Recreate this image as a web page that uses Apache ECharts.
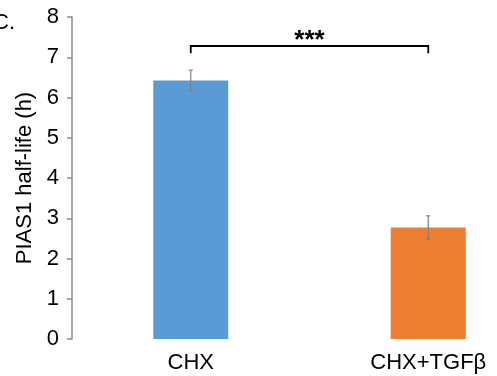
<!DOCTYPE html>
<html><head><meta charset="utf-8">
<script src="https://cdn.jsdelivr.net/npm/echarts@6/dist/echarts.min.js"></script>
<style>html,body{margin:0;padding:0;background:#fff}#c{width:497px;height:376px}</style>
</head><body><div id="c"></div>
<script>
var categories = ['CHX', 'CHX+TGF\u03b2'];
var halfLife = [6.42, 2.77];
var errors = [0.26, 0.29];
var colors = ['#5B9BD5', '#ED7D31'];
var yTicks = [0, 1, 2, 3, 4, 5, 6, 7, 8];
var bracketLevel = 7.28, bracketDrop = 7.1, sigLabel = '***';

// axis slots: an empty slot before each category so that bars sit like in the original layout
var slots = [];
var slotIndex = [];
categories.forEach(function (c) { slots.push(''); slots.push(c); slotIndex.push(slots.length - 1); });
var barData = slots.map(function () { return null; });
halfLife.forEach(function (v, i) { barData[slotIndex[i]] = { value: v, itemStyle: { color: colors[i] } }; });

var chart = echarts.init(document.getElementById('c'));
var font = 'Liberation Sans, Arial, sans-serif';
chart.setOption({
  animation: false,
  grid: { left: 72, top: 17, width: 356.25, height: 322 },
  xAxis: {
    type: 'category', data: slots, boundaryGap: false,
    axisLine: { show: false }, axisTick: { show: false },
    axisLabel: { interval: 0, color: '#000', fontSize: 22, fontFamily: font, margin: 13 }
  },
  yAxis: {
    type: 'value', min: yTicks[0], max: yTicks[yTicks.length - 1], interval: 1,
    name: 'PIAS1 half-life (h)', nameLocation: 'middle', nameGap: 36,
    nameTextStyle: { color: '#000', fontSize: 22, fontFamily: font },
    axisLine: { show: true, lineStyle: { color: '#8c8c8c', width: 1.5 } },
    axisTick: { show: true, length: 5, lineStyle: { color: '#8c8c8c', width: 1.5 } },
    splitLine: { show: false },
    axisLabel: { color: '#000', fontSize: 22, fontFamily: font, margin: 13 }
  },
  graphic: [{ type: 'text', left: -7, top: 12, style: { text: 'C.', fontSize: 22, fontFamily: font, fill: '#000' } }],
  series: [
    { type: 'bar', barWidth: 75, data: barData },
    { type: 'custom', z: 5,
      data: halfLife.map(function (v, i) { return [slotIndex[i], v, errors[i]]; }),
      renderItem: function (params, api) {
        var x = api.coord([api.value(0), 0])[0];
        var hi = api.coord([api.value(0), api.value(1) + api.value(2)])[1];
        var lo = api.coord([api.value(0), api.value(1) - api.value(2)])[1];
        var st = { stroke: '#808080', lineWidth: 1.2 };
        return { type: 'group', children: [
          { type: 'line', shape: { x1: x, y1: hi, x2: x, y2: lo }, style: st },
          { type: 'line', shape: { x1: x - 2, y1: hi, x2: x + 2, y2: hi }, style: st },
          { type: 'line', shape: { x1: x - 2, y1: lo, x2: x + 2, y2: lo }, style: st }
        ]};
      } },
    { type: 'custom', z: 6,
      data: [[slotIndex[0], slotIndex[1], bracketLevel, bracketDrop]],
      renderItem: function (params, api) {
        var x1 = api.coord([api.value(0), 0])[0];
        var x2 = api.coord([api.value(1), 0])[0];
        var y = api.coord([0, api.value(2)])[1];
        var yd = api.coord([0, api.value(3)])[1];
        var st = { stroke: '#000', lineWidth: 1.8, fill: null };
        return { type: 'group', children: [
          { type: 'polyline', shape: { points: [[x1, yd], [x1, y], [x2, y], [x2, yd]] }, style: st },
          { type: 'text', style: { text: sigLabel, x: (x1 + x2) / 2, y: y - 5, align: 'center', verticalAlign: 'middle',
            fontSize: 26, fontWeight: 'bold', fontFamily: font, fill: '#000' } }
        ]};
      } }
  ]
});
</script></body></html>
